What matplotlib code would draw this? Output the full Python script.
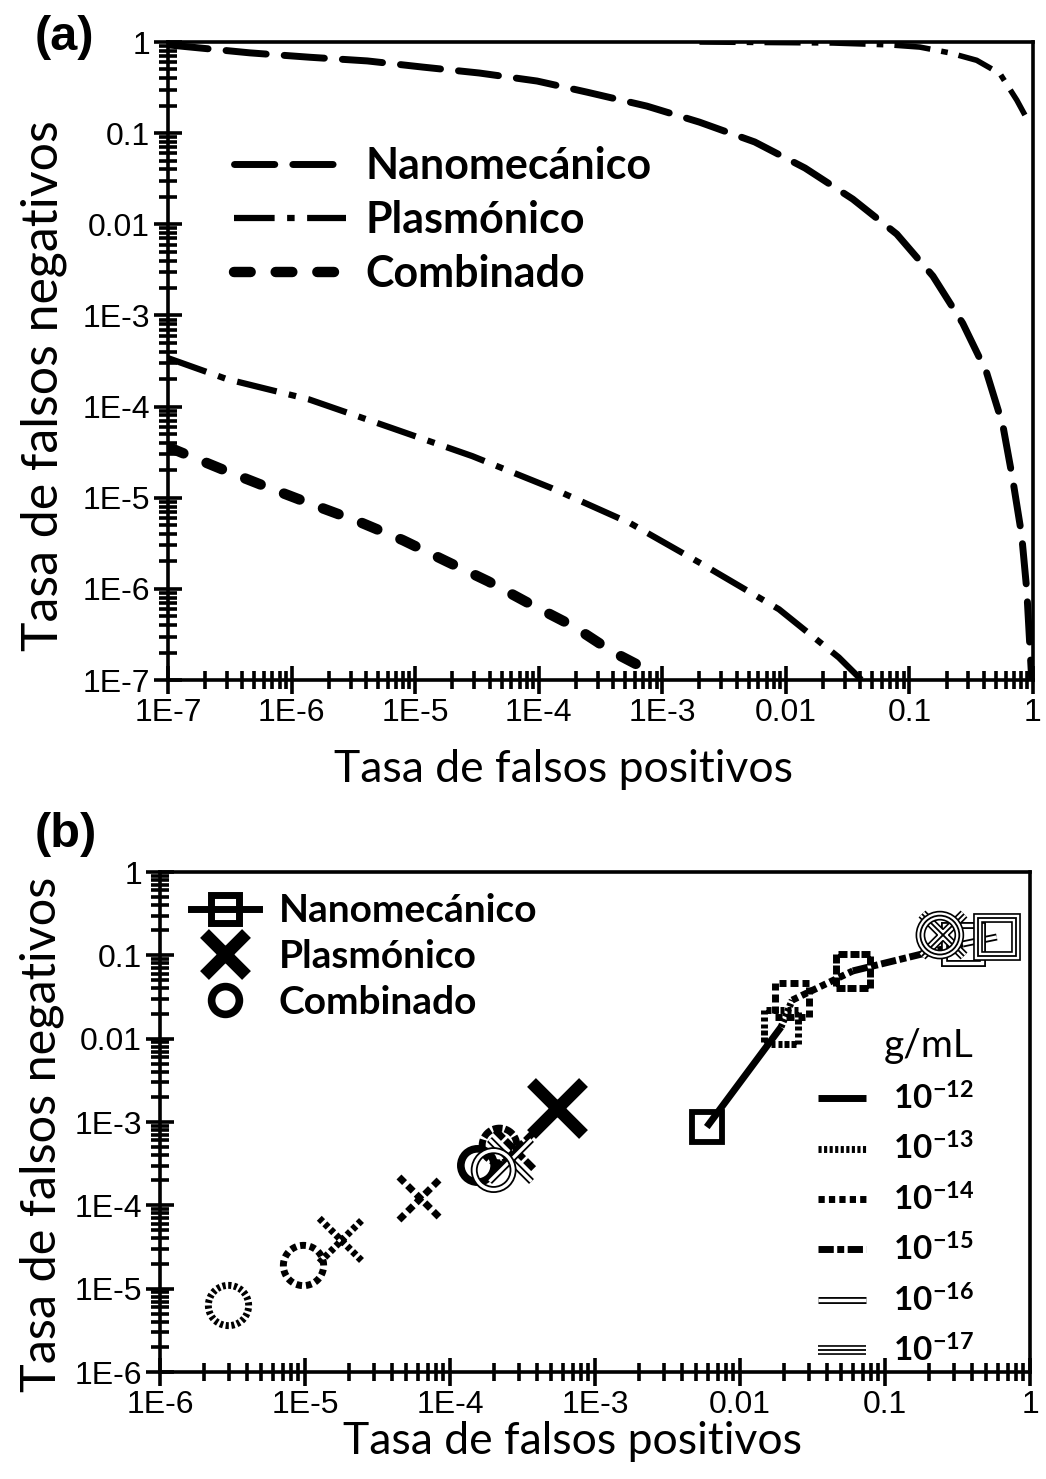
import numpy as np
import matplotlib
matplotlib.use("Agg")
import matplotlib.pyplot as plt
from matplotlib.path import Path
from matplotlib.lines import Line2D
import matplotlib.patheffects as pe
from matplotlib.ticker import FixedLocator, FixedFormatter, LogLocator, NullFormatter

plt.rcParams['mathtext.fontset'] = 'custom'
plt.rcParams['mathtext.rm'] = 'Lato:bold'
plt.rcParams['mathtext.default'] = 'rm'

# ---------------- data: panel (a) ----------------
nano_fp = [1e-7, 4.6e-7, 1.41e-6, 4.1e-6, 1.16e-5, 3.3e-5, 9.7e-5, 2.45e-4, 7.5e-4, 2.0e-3,
           5.6e-3, 0.0143, 0.0348, 0.079, 0.155, 0.27, 0.42, 0.57, 0.687, 0.81, 0.89, 0.94, 0.977]
nano_fn = [0.93, 0.76, 0.68, 0.62, 0.53, 0.457, 0.373, 0.282, 0.198, 0.132,
           0.080, 0.0414, 0.0189, 0.0078, 0.0027, 8.2e-4, 2.39e-4, 6.25e-5, 1.56e-5, 3.87e-6, 9.7e-7, 2.53e-7, 1e-7]

plas_fp = [1e-7, 3.0e-7, 1.38e-6, 6.5e-6, 2.9e-5, 1.28e-4, 5.5e-4, 2.25e-3, 8.8e-3, 0.0268, 0.041]
plas_fn = [3.4e-4, 2.0e-4, 1.2e-4, 5.8e-5, 2.86e-5, 1.27e-5, 5.25e-6, 1.77e-6, 5.97e-7, 1.77e-7, 1.0e-7]

plas_hi_fp = [2.0e-3, 0.024, 0.069, 0.121, 0.212, 0.35, 0.54, 0.74, 0.86]
plas_hi_fn = [1.0, 0.975, 0.93, 0.88, 0.76, 0.63, 0.45, 0.23, 0.158]

comb_fp = [1e-7, 3.0e-7, 6.7e-7, 1.52e-6, 3.57e-6, 7.96e-6, 1.8e-5, 3.9e-5, 8.3e-5, 1.9e-4, 3.9e-4, 8.4e-4]
comb_fn = [3.6e-5, 1.95e-5, 1.27e-5, 8.3e-6, 5.4e-6, 3.42e-6, 2.0e-6, 1.21e-6, 6.95e-7, 3.9e-7, 2.06e-7, 1.2e-7]

a_xticks = [1e-7, 1e-6, 1e-5, 1e-4, 1e-3, 1e-2, 1e-1, 1]
a_xlabels = ['1E-7', '1E-6', '1E-5', '1E-4', '1E-3', '0.01', '0.1', '1']
a_yticks = [1e-7, 1e-6, 1e-5, 1e-4, 1e-3, 1e-2, 1e-1, 1]
a_ylabels = ['1E-7', '1E-6', '1E-5', '1E-4', '1E-3', '0.01', '0.1', '1']

# ---------------- data: panel (b) ----------------
conc_labels = ['10$^{-12}$', '10$^{-13}$', '10$^{-14}$', '10$^{-15}$', '10$^{-16}$', '10$^{-17}$']
sq_fp = [5.9e-3, 0.0192, 0.0229, 0.060, 0.345, 0.59]
sq_fn = [8.7e-4, 0.0138, 0.029, 0.065, 0.137, 0.166]
x_fp = [5.5e-4, 1.77e-5, 6.2e-5, 2.8e-4, 2.6e-4, 0.251]
x_fn = [1.47e-3, 3.8e-5, 1.22e-4, 4.6e-4, 3.5e-4, 0.175]
o_fp = [1.53e-4, 2.94e-6, 9.7e-6, 2.18e-4, 2.0e-4, 0.239]
o_fn = [3.04e-4, 6.3e-6, 1.9e-5, 5.3e-4, 2.65e-4, 0.175]

b_xticks = [1e-6, 1e-5, 1e-4, 1e-3, 1e-2, 1e-1, 1]
b_xlabels = ['1E-6', '1E-5', '1E-4', '1E-3', '0.01', '0.1', '1']
b_yticks = [1e-6, 1e-5, 1e-4, 1e-3, 1e-2, 1e-1, 1]
b_ylabels = ['1E-6', '1E-5', '1E-4', '1E-3', '0.01', '0.1', '1']

methods = ['Nanomecánico', 'Plasmónico', 'Combinado']

# ---------------- helpers ----------------
TICKFONT = 'Liberation Sans'
TEXTFONT = 'Lato'


def seg_path(polylines, n_per, duty):
    verts, codes = [], []
    for pts in polylines:
        pts = np.asarray(pts, float)
        seglen = np.r_[0, np.cumsum(np.hypot(*np.diff(pts, axis=0).T))]
        L = seglen[-1]
        for i in range(n_per):
            s0 = L * i / n_per
            s1 = s0 + L * duty / n_per
            ss = np.linspace(s0, s1, 6)
            xs = np.interp(ss, seglen, pts[:, 0])
            ys = np.interp(ss, seglen, pts[:, 1])
            for j, (xx, yy) in enumerate(zip(xs, ys)):
                verts.append((xx, yy))
                codes.append(Path.MOVETO if j == 0 else Path.LINETO)
    return Path(verts, codes)


th = np.linspace(0, 2 * np.pi, 97)
CIRC = [np.c_[np.cos(th), np.sin(th)]]
SQR = [[(-1, -1), (1, -1)], [(1, -1), (1, 1)], [(1, 1), (-1, 1)], [(-1, 1), (-1, -1)]]
XX = [[(-1, -1), (1, 1)], [(-1, 1), (1, -1)]]


def style_axes(ax, xticks, xlabels, yticks, ylabels, xlim, ylim):
    ax.set_xscale('log')
    ax.set_yscale('log')
    ax.set_xlim(*xlim)
    ax.set_ylim(*ylim)
    for s in ax.spines.values():
        s.set_linewidth(2.6)
    ax.xaxis.set_major_locator(FixedLocator(xticks))
    ax.xaxis.set_major_formatter(FixedFormatter(xlabels))
    ax.yaxis.set_major_locator(FixedLocator(yticks))
    ax.yaxis.set_major_formatter(FixedFormatter(ylabels))
    ax.xaxis.set_minor_locator(LogLocator(base=10, subs=np.arange(2, 10), numticks=20))
    ax.yaxis.set_minor_locator(LogLocator(base=10, subs=np.arange(2, 10), numticks=20))
    ax.xaxis.set_minor_formatter(NullFormatter())
    ax.yaxis.set_minor_formatter(NullFormatter())
    ax.tick_params(which='major', direction='inout', length=20, width=2.6, pad=3,
                   labelsize=23)
    ax.tick_params(which='minor', direction='inout', length=13, width=2.6)
    for lab in ax.get_xticklabels() + ax.get_yticklabels():
        lab.set_fontfamily(TICKFONT)


fig = plt.figure(figsize=(10.46, 14.79), dpi=100)

# ================= panel (a) =================
axa = fig.add_axes([168 / 1046, 1 - 680 / 1479, 865 / 1046, 638 / 1479])
style_axes(axa, a_xticks, a_xlabels, a_yticks, a_ylabels, (1e-7, 1), (1e-7, 1))

axa.plot(nano_fp, nano_fn, color='black', lw=5, dashes=(5.8, 2.6),
         dash_capstyle='round', label=methods[0])
axa.plot(plas_fp, plas_fn, color='black', lw=4.5, dashes=(6.5, 2.0, 1.2, 2.0),
         dash_capstyle='butt', label=methods[1])
axa.plot(plas_hi_fp, plas_hi_fn, color='black', lw=4.0, dashes=(6.5, 2.0, 1.2, 2.0),
         dash_capstyle='butt')
axa.plot(comb_fp, comb_fn, color='black', lw=7.5, dashes=(1.6, 2.4),
         dash_capstyle='round', label=methods[2])

lega = axa.legend(loc='upper left', bbox_to_anchor=(0.032, 0.897), frameon=False,
                  handlelength=2.6, handletextpad=0.45, labelspacing=0.32,
                  prop={'family': TEXTFONT, 'weight': 'bold', 'size': 31})

axa.set_xlabel('Tasa de falsos positivos', fontfamily=TEXTFONT, fontsize=32)
axa.xaxis.set_label_coords(0.457, -0.108)
axa.set_ylabel('Tasa de falsos negativos', fontfamily=TEXTFONT, fontsize=36)
axa.yaxis.set_label_coords(-0.117, 0.462)
fig.text(35 / 1046, 1 - 38 / 1479, '(a)', fontfamily=TICKFONT, fontweight='bold',
         fontsize=35, va='center', ha='left')

# ================= panel (b) =================
axb = fig.add_axes([160 / 1046, 1 - 1372 / 1479, 870 / 1046, 500 / 1479])
style_axes(axb, b_xticks, b_xlabels, b_yticks, b_ylabels, (1e-6, 1), (1e-6, 1))

# per-concentration styles
dbl = [pe.Stroke(linewidth=5.0, foreground='black'), pe.Stroke(linewidth=2.4, foreground='white')]
tri = [pe.Stroke(linewidth=7.0, foreground='black'), pe.Stroke(linewidth=4.6, foreground='white'),
       pe.Stroke(linewidth=1.3, foreground='black')]

line_kw = [
    dict(ls='-', lw=5),
    dict(lw=5, dashes=(0.45, 0.35)),
    dict(lw=5, dashes=(0.9, 0.6)),
    dict(lw=5, dashes=(2.2, 0.5, 1.0, 0.5)),
    dict(ls='-', lw=1, path_effects=dbl),
    dict(ls='-', lw=1, path_effects=tri),
]

sq_mk = ['s', seg_path(SQR, 5, 0.6), seg_path(SQR, 3, 0.65), seg_path(SQR, 3, 0.8), 's', 's']
x_mk = ['x', seg_path(XX, 8, 0.6), seg_path(XX, 5, 0.65), seg_path(XX, 4, 0.8), 'x', 'x']
o_mk = ['o', seg_path(CIRC, 22, 0.55), seg_path(CIRC, 13, 0.6), seg_path(CIRC, 9, 0.8), 'o', 'o']
sq_ms = [22, 25, 25, 25, 27, 27]
x_ms = [37, 32, 31, 29, 30, 30]
o_ms = [24, 29, 29, 25, 28, 28]
sq_mew = [4.2, 5.0, 5.0, 5.0, 1, 1]
x_mew = [9, 5.0, 5.0, 5.0, 1, 1]
o_mew = [5.5, 5.0, 5.0, 5.0, 1, 1]

# connecting line for nanomechanical squares
for i in range(len(sq_fp) - 1):
    kw = dict(line_kw[i])
    axb.plot(sq_fp[i:i + 2], sq_fn[i:i + 2], color='black', solid_capstyle='butt', **kw)

for i in range(6):
    peff = line_kw[i].get('path_effects', None)
    for fx, fy, mk, ms, mew in ((sq_fp, sq_fn, sq_mk, sq_ms, sq_mew),
                                 (x_fp, x_fn, x_mk, x_ms, x_mew),
                                 (o_fp, o_fn, o_mk, o_ms, o_mew)):
        ln, = axb.plot([fx[i]], [fy[i]], ls='none', marker=mk[i], ms=ms[i], mew=mew[i],
                       mec='black', mfc='none', zorder=3)
        if peff is not None:
            ln.set_path_effects(peff)

# legend: methods
mh = [Line2D([], [], color='black', lw=5, marker='s', ms=20, mew=5, mfc='none', mec='black'),
      Line2D([], [], color='black', ls='none', marker='x', ms=30, mew=9),
      Line2D([], [], color='black', ls='none', marker='o', ms=20, mew=5.5, mfc='none')]
legm = axb.legend(mh, methods, loc='upper left', bbox_to_anchor=(0.0, 1.02), frameon=False,
                  handlelength=1.75, handletextpad=0.5, labelspacing=0.28, borderaxespad=0.4,
                  prop={'family': TEXTFONT, 'weight': 'bold', 'size': 28})
axb.add_artist(legm)

# legend: concentrations
ch = []
for i in range(6):
    ch.append(Line2D([], [], color='black', solid_capstyle='butt', **line_kw[i]))
legc = axb.legend(ch, conc_labels, loc='lower right', bbox_to_anchor=(0.97, -0.05),
                  frameon=False, title='g/mL', handlelength=1.45, handletextpad=0.8,
                  labelspacing=0.52,
                  prop={'family': TEXTFONT, 'weight': 'bold', 'size': 24})
legc.get_title().set_fontfamily(TEXTFONT)
legc.get_title().set_fontsize(28)
legc._legend_box.align = 'right'

axb.set_xlabel('Tasa de falsos positivos', fontfamily=TEXTFONT, fontsize=32)
axb.xaxis.set_label_coords(0.474, -0.098)
axb.set_ylabel('Tasa de falsos negativos', fontfamily=TEXTFONT, fontsize=35)
axb.yaxis.set_label_coords(-0.11, 0.476)
fig.text(35 / 1046, 1 - 835 / 1479, '(b)', fontfamily=TICKFONT, fontweight='bold',
         fontsize=35, va='center', ha='left')

fig.savefig('out.png', dpi=100)
